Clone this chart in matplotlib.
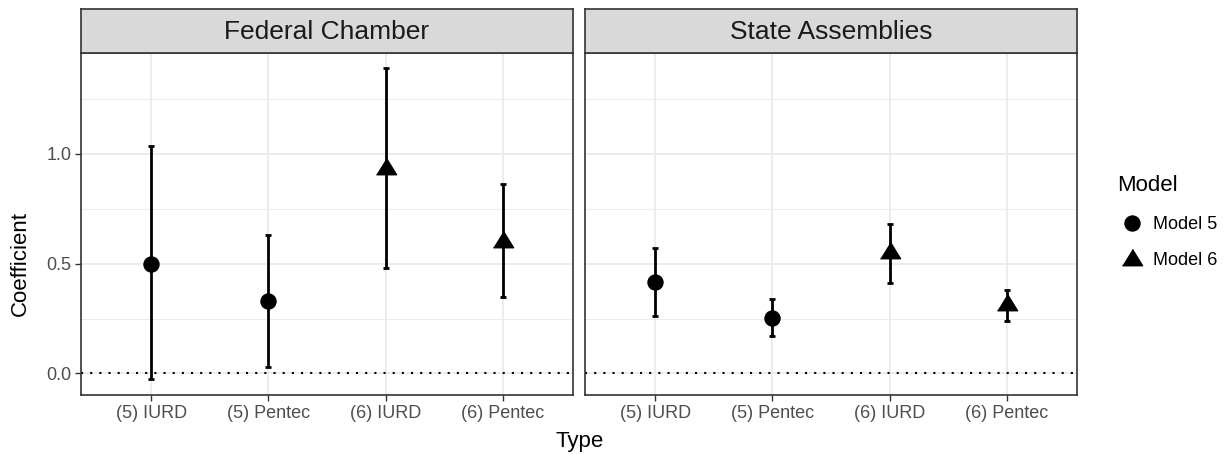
import numpy as np
import matplotlib
matplotlib.use("Agg")
import matplotlib.pyplot as plt
from matplotlib.lines import Line2D
from matplotlib.ticker import MultipleLocator, FormatStrFormatter

plt.rcParams['font.family'] = ['Liberation Sans', 'DejaVu Sans']

# coefficient estimates with 95% intervals, one list per chamber
types = ["(5) IURD", "(5) Pentec", "(6) IURD", "(6) Pentec"]
models = ["Model 5", "Model 5", "Model 6", "Model 6"]
panels = ["Federal Chamber", "State Assemblies"]

fed_coef = [0.50, 0.33, 0.935, 0.605]
fed_low = [-0.027, 0.029, 0.481, 0.347]
fed_high = [1.035, 0.631, 1.39, 0.863]

state_coef = [0.417, 0.253, 0.552, 0.315]
state_low = [0.261, 0.171, 0.414, 0.240]
state_high = [0.572, 0.337, 0.680, 0.381]

# filled triangle a bit flatter than matplotlib's default '^'
tri = [(-1, -0.62), (1, -0.62), (0, 1.0)]
marker_for = {"Model 5": "o", "Model 6": tri}
size_for = {"Model 5": 10.8, "Model 6": 14.5}

fig = plt.figure(figsize=(12.32, 4.55), dpi=100)

W, H = 1232, 455
panel_top, panel_bot = 52.7, 395
strip_top = 9.3
lefts = [81, 585]
pw = 492

data = [(fed_coef, fed_low, fed_high), (state_coef, state_low, state_high)]
axes = []
for i, (coef, low, high) in enumerate(data):
    ax = fig.add_axes([lefts[i] / W, (H - panel_bot) / H, pw / W, (panel_bot - panel_top) / H])
    axes.append(ax)
    x = np.arange(len(types))

    ax.axhline(0, color="black", lw=1.5, ls=(0, (1, 3.4)), zorder=2)
    for j in range(len(types)):
        ax.errorbar(x[j], coef[j],
                    yerr=[[coef[j] - low[j]], [high[j] - coef[j]]],
                    fmt="none", ecolor="black", elinewidth=2, capsize=2, capthick=2, zorder=3)
        ax.plot(x[j], coef[j], ls="none", marker=marker_for[models[j]], color="black",
                ms=size_for[models[j]], zorder=4)

    ax.set_xlim(-0.6, 3.6)
    ax.set_ylim(-0.098, 1.461)
    ax.set_xticks(x)
    ax.set_xticklabels(types)
    ax.yaxis.set_major_locator(MultipleLocator(0.5))
    ax.yaxis.set_minor_locator(MultipleLocator(0.25))
    ax.yaxis.set_major_formatter(FormatStrFormatter("%.1f"))
    ax.grid(True, which="major", color="#EBEBEB", lw=1.3, zorder=0)
    ax.grid(True, which="minor", axis="y", color="#EBEBEB", lw=0.7, zorder=0)
    ax.set_axisbelow(True)
    ax.tick_params(axis="both", which="major", length=4, width=1, color="#333333",
                   labelsize=13, labelcolor="#4D4D4D", pad=3)
    ax.tick_params(axis="y", which="minor", length=0)
    for s in ax.spines.values():
        s.set_color("#333333")
        s.set_linewidth(1.2)
    if i == 1:
        ax.tick_params(axis="y", which="both", left=False, labelleft=False)

    # facet strip
    sax = fig.add_axes([lefts[i] / W, (H - panel_top) / H, pw / W, (panel_top - strip_top) / H])
    sax.set_facecolor("#D9D9D9")
    sax.set_xticks([])
    sax.set_yticks([])
    for s in sax.spines.values():
        s.set_color("#333333")
        s.set_linewidth(1.2)
    sax.text(0.5, 0.47, panels[i], ha="center", va="center", fontsize=19,
             color="#1A1A1A", transform=sax.transAxes)

fig.text(20 / W, 1 - 263 / H, "Coefficient", ha="center", va="center",
         rotation=90, fontsize=16)
fig.text(579.5 / W, 1 - 442 / H, "Type", ha="center", va="center", fontsize=16)

handles = [Line2D([], [], ls="none", marker="o", color="black", ms=10.8),
           Line2D([], [], ls="none", marker=tri, color="black", ms=14.5)]
leg = fig.legend(handles, ["Model 5", "Model 6"], title="Model", loc="upper left",
                 bbox_to_anchor=(1103 / W, 1 - 161 / H), frameon=False, fontsize=13,
                 title_fontsize=16, handletextpad=0.35, labelspacing=1.05,
                 handlelength=1.6, alignment="left", borderpad=0.3)
leg._legend_box.sep = 14

fig.savefig("out.png", dpi=100)
